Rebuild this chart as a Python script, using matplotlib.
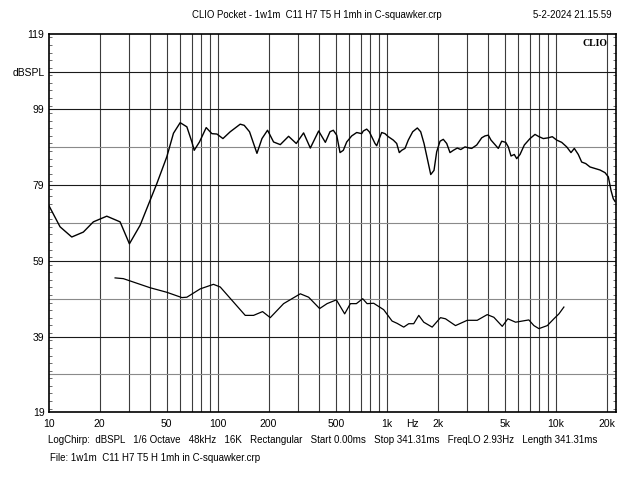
import matplotlib
matplotlib.use('Agg')
import matplotlib.pyplot as plt
from matplotlib.ticker import FixedLocator, MultipleLocator

# ---- data ----
freq_response = [10, 11.67, 13.69, 16.03, 18.37, 22.06, 26.45, 28.31, 30.03, 34.75,
                 39.82, 43.63, 50.0, 54.73, 59.97, 65.7, 70.35, 72.6, 78.0, 85.5,
                 92.4, 98.9, 107.4, 118.6, 135.9, 143.5, 154.3, 170.7, 182.8, 197.2,
                 214.1, 234.6, 262.7, 291.7, 322.3, 353.2, 395.6, 433.5, 461.8, 483.1,
                 506.0, 529.4, 553.7, 579.9, 620.8, 664.5, 711.4, 727.0, 761.5, 788.9,
                 815.1, 852.7, 872.6, 904.1, 934.2, 977.0, 1022, 1094, 1146, 1187,
                 1227, 1283, 1342, 1425, 1518, 1589, 1663, 1739, 1822, 1905,
                 1976, 2068, 2162, 2265, 2369, 2479, 2617, 2742, 2906, 3083,
                 3184, 3409, 3649, 3816, 3993, 4142, 4373, 4574, 4791, 5061,
                 5243, 5440, 5689, 5878, 6150, 6521, 7046, 7543, 7965, 8446,
                 9043, 9547, 10137, 10852, 11619, 12319, 12888, 13605, 14248, 15051,
                 15958, 17082, 18288, 19577, 20477, 21244, 21920, 22435]
spl_response = [73.7, 68.0, 65.3, 66.6, 69.3, 70.8, 69.3, 66.2, 63.5, 68.4,
                75.0, 79.4, 86.5, 92.7, 95.5, 94.4, 90.4, 88.2, 90.4, 94.2,
                92.6, 92.5, 91.3, 93.1, 95.1, 94.8, 93.1, 87.4, 91.3, 93.5,
                90.4, 89.7, 91.9, 90.0, 92.8, 88.8, 93.3, 90.3, 93.1, 93.5,
                92.2, 87.6, 88.2, 90.4, 92.0, 92.9, 92.6, 93.3, 93.8, 93.1,
                91.8, 90.0, 89.4, 91.3, 92.9, 92.6, 91.8, 90.9, 90.0, 87.6,
                88.2, 88.7, 90.9, 93.1, 94.1, 93.1, 90.0, 86.0, 81.8, 82.9,
                87.8, 90.6, 91.1, 90.0, 87.6, 88.2, 88.8, 88.4, 89.1, 88.8,
                88.7, 89.6, 91.5, 92.0, 92.2, 90.9, 89.7, 88.7, 90.6, 90.3,
                89.1, 86.7, 87.1, 86.0, 87.1, 89.6, 91.3, 92.4, 91.8, 91.3,
                91.5, 91.8, 90.9, 90.3, 89.1, 87.6, 88.7, 87.1, 85.1, 84.7,
                83.8, 83.4, 83.0, 82.3, 81.2, 77.6, 75.4, 74.7]

freq_distortion = [24.71, 27.66, 31.71, 39.82, 50.0, 61.38, 65.7, 78.8, 94.4, 103.5,
                   124.1, 145.5, 163.0, 184.3, 204.6, 245.4, 308.2, 345.1, 401.0, 443.6,
                   503.6, 564.0, 609.5, 661.5, 721.0, 765.5, 837.5, 960, 1076, 1152,
                   1261, 1350, 1445, 1548, 1657, 1858, 2081, 2228, 2553, 2995,
                   3432, 3933, 4305, 4828, 5209, 5788, 6937, 7430, 7953, 8918,
                   9756, 10450, 11180]
spl_distortion = [54.5, 54.3, 53.4, 51.9, 50.7, 49.3, 49.4, 51.6, 52.8, 52.1,
                  48.1, 44.6, 44.6, 45.6, 44.0, 47.7, 50.3, 49.4, 46.4, 47.7,
                  48.7, 45.0, 47.7, 47.7, 49.0, 47.7, 47.8, 46.1, 43.1, 42.5,
                  41.5, 42.4, 42.4, 44.6, 42.8, 41.5, 44.0, 43.7, 41.9, 43.3,
                  43.3, 44.8, 44.1, 41.7, 43.7, 42.8, 43.4, 41.9, 41.1, 41.9,
                  43.7, 45.0, 46.8]

xtick_values = [10, 20, 50, 100, 200, 500, 1000, 1426, 2000, 5000, 10000, 20000]
xtick_labels = ['10', '20', '50', '100', '200', '500', '1k', 'Hz', '2k', '5k', '10k', '20k']
ytick_values = [19, 39, 59, 79, 99, 109, 119]
ytick_labels = ['19', '39', '59', '79', '99', 'dBSPL', '119']
grid_freqs = [20, 30, 40, 50, 60, 70, 80, 90,
              100, 200, 300, 400, 500, 600, 700, 800, 900,
              1000, 2000, 3000, 4000, 5000, 6000, 7000, 8000, 9000,
              10000, 20000]
grid_levels = [29, 39, 49, 59, 69, 79, 89, 99, 109]

title_text = 'CLIO Pocket - 1w1m  C11 H7 T5 H 1mh in C-squawker.crp'
date_text = '5-2-2024 21.15.59'
info_text = ('LogChirp:  dBSPL   1/6 Octave   48kHz   16K   Rectangular   '
             'Start 0.00ms   Stop 341.31ms   FreqLO 2.93Hz   Length 341.31ms')
file_text = 'File: 1w1m  C11 H7 T5 H 1mh in C-squawker.crp'

plt.rcParams['font.family'] = ['Liberation Sans', 'DejaVu Sans']

W, H = 640, 480
fig = plt.figure(figsize=(6.4, 4.8), dpi=100)
x0, x1, y0, y1 = 48.7, 615.7, 33.7, 412.3
ax = fig.add_axes([x0 / W, 1 - y1 / H, (x1 - x0) / W, (y1 - y0) / H])
ax.set_xscale('log')
ax.set_xlim(10, 10 ** (1 + (x1 - x0) / 169.0))
ax.set_ylim(19, 119)

for f in grid_freqs:
    ax.axvline(f, color='#3c3c3c', lw=0.8, zorder=1)
for lv in grid_levels:
    c = '#1a1a1a' if lv in ytick_values else '#8a8a8a'
    ax.axhline(lv, color=c, lw=0.8, zorder=1)

ax.plot(freq_response, spl_response, color='black', lw=1.0, zorder=3)
ax.plot(freq_distortion, spl_distortion, color='black', lw=0.9, zorder=3)

ax.xaxis.set_major_locator(FixedLocator(xtick_values))
ax.set_xticklabels(xtick_labels)
ax.xaxis.set_minor_locator(FixedLocator([]))
ax.tick_params(axis='x', which='both', length=0, pad=5, labelsize=7.5)

ax.yaxis.set_major_locator(FixedLocator(ytick_values))
ax.set_yticklabels(ytick_labels)
ax.yaxis.set_minor_locator(MultipleLocator(2))
ax.tick_params(axis='y', which='major', length=0, pad=3, labelsize=7.5)
ax.tick_params(axis='y', which='minor', direction='in', length=2.5, width=0.6,
               left=True, right=True, color='#555555')

for s in ax.spines.values():
    s.set_linewidth(1.2)
    s.set_color('black')
    s.set_zorder(4)

ax.text(0.985, 0.985, 'CLIO', transform=ax.transAxes, ha='right', va='top',
        fontsize=7, fontweight='bold', family=['Liberation Serif', 'DejaVu Serif'])

fig.text(317 / W, 1 - 15 / H, title_text, ha='center', va='center', fontsize=6.9)
fig.text(612 / W, 1 - 15 / H, date_text, ha='right', va='center', fontsize=6.9)
fig.text(48 / W, 1 - 440 / H, info_text, ha='left', va='center', fontsize=7.0)
fig.text(50 / W, 1 - 458 / H, file_text, ha='left', va='center', fontsize=7.0)

fig.savefig('out.png', dpi=100)
